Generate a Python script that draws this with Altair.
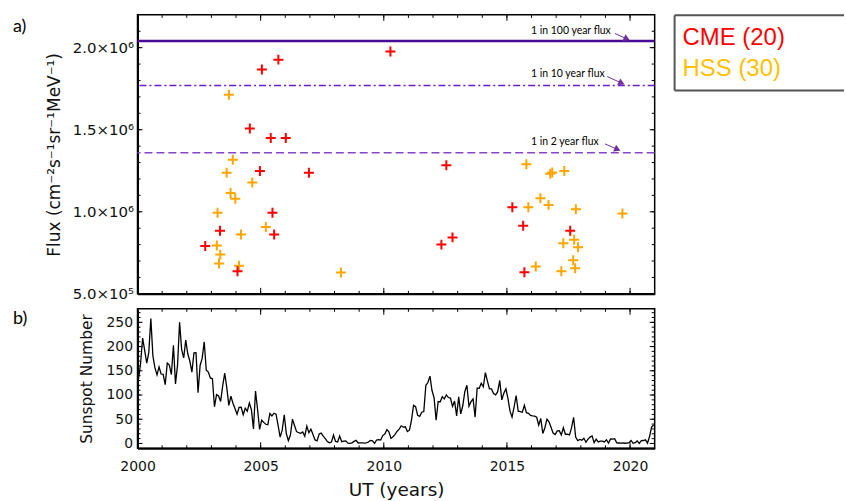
import altair as alt
import pandas as pd

# ---------------------------------------------------------------------------
# Peak >2 MeV electron flux of individual events (decimal year, cm^-2 s^-1 sr^-1 MeV^-1)
# ---------------------------------------------------------------------------
cme_year = [2002.75, 2003.35, 2004.06, 2004.56, 2004.97, 2005.05, 2005.41, 2005.48, 2005.55, 2005.72,
            2006.02, 2006.96, 2010.27, 2012.34, 2012.54, 2012.79, 2015.22, 2015.66, 2015.71, 2017.57]
cme_flux = [0.792e6, 0.885e6, 0.638e6, 1.507e6, 1.248e6, 1.867e6, 1.450e6, 0.994e6, 0.861e6, 1.927e6,
            1.450e6, 1.238e6, 1.976e6, 0.800e6, 1.283e6, 0.844e6, 1.027e6, 0.915e6, 0.632e6, 0.885e6]

hss_year = [2003.22, 2003.25, 2003.31, 2003.36, 2003.62, 2003.71, 2003.78, 2003.87, 2003.97, 2004.12,
            2004.20, 2004.66, 2005.21, 2008.26, 2015.79, 2015.87, 2016.17, 2016.36, 2016.69, 2016.76,
            2016.84, 2017.21, 2017.29, 2017.33, 2017.69, 2017.73, 2017.77, 2017.80, 2017.89, 2019.69]
hss_flux = [0.794e6, 0.994e6, 0.685e6, 0.739e6, 1.238e6, 1.713e6, 1.115e6, 1.317e6, 1.079e6, 0.671e6,
            0.861e6, 1.178e6, 0.907e6, 0.630e6, 1.289e6, 1.027e6, 0.667e6, 1.083e6, 1.042e6, 1.232e6,
            1.240e6, 0.638e6, 0.808e6, 1.248e6, 0.705e6, 0.829e6, 0.656e6, 1.016e6, 0.784e6, 0.990e6]

# Return-level fluxes and their annotations (text anchor, arrow tail, arrow head)
level_name = ["1 in 100 year flux", "1 in 10 year flux", "1 in 2 year flux"]
level_flux = [2.04e6, 1.77e6, 1.36e6]
level_text_year = [2015.98, 2015.98, 2015.98]
level_text_flux = [2.101e6, 1.841e6, 1.428e6]
arrow_tail_year = [2019.38, 2019.07, 2018.98]
arrow_tail_flux = [2.087e6, 1.824e6, 1.414e6]
arrow_head_year = [2019.87, 2019.66, 2019.49]
arrow_head_flux = [2.053e6, 1.784e6, 1.380e6]

# Monthly mean sunspot number, one row of 12 per year from 2000
sunspot_start = 2000
sunspot_monthly = [
    [133.1, 165.7, 217.7, 191.5, 165.9, 188.0, 258.0, 180.5, 156.0, 141.6, 158.1, 143.3],
    [142.6, 121.5, 165.8, 161.7, 142.1, 202.9, 123.0, 161.5, 250.0, 194.1, 176.6, 213.4],
    [184.6, 170.2, 147.1, 186.9, 187.5, 105.0, 161.0, 175.6, 210.0, 151.2, 147.2, 135.3],
    [133.5, 75.7, 100.7, 97.9, 86.8, 118.7, 145.0, 115.4, 78.5, 97.8, 82.9, 72.2],
    [60.6, 74.6, 74.8, 59.2, 72.8, 66.5, 83.8, 69.7, 30.0, 108.0, 70.1, 28.9],
    [48.1, 43.5, 39.6, 38.7, 61.9, 56.8, 62.4, 60.5, 37.2, 13.2, 27.5, 59.3],
    [20.9, 5.7, 17.3, 50.3, 37.2, 24.5, 22.2, 20.8, 23.7, 14.9, 35.7, 22.3],
    [29.3, 18.4, 7.2, 5.4, 19.5, 21.3, 15.1, 9.8, 4.0, 1.5, 2.8, 17.3],
    [4.1, 2.9, 15.5, 3.6, 4.6, 5.2, 0.6, 0.3, 1.2, 4.2, 6.6, 1.0],
    [1.3, 1.2, 0.6, 1.2, 2.9, 6.3, 5.5, 0.0, 7.1, 7.7, 6.9, 16.3],
    [19.5, 28.5, 24.0, 10.4, 13.9, 18.8, 25.2, 29.6, 36.4, 33.6, 34.4, 24.5],
    [27.3, 48.3, 78.6, 76.1, 58.2, 56.1, 64.5, 65.8, 120.1, 125.7, 139.1, 109.3],
    [94.4, 47.8, 86.6, 85.9, 96.5, 92.0, 100.1, 94.8, 93.7, 76.5, 87.6, 56.8],
    [96.1, 60.9, 78.3, 107.3, 120.2, 76.7, 86.2, 91.8, 54.5, 114.4, 113.9, 124.2],
    [117.0, 146.1, 128.7, 112.5, 112.5, 102.9, 100.2, 106.9, 130.0, 90.0, 103.6, 112.9],
    [93.0, 66.7, 54.5, 75.3, 99.0, 66.5, 65.8, 64.4, 78.6, 63.6, 62.2, 58.0],
    [57.0, 56.4, 54.1, 37.9, 51.5, 20.5, 32.4, 50.2, 44.6, 33.4, 21.4, 18.5],
    [26.1, 26.4, 17.7, 32.3, 18.9, 19.2, 17.8, 32.6, 54.0, 13.2, 5.7, 8.2],
    [6.8, 10.7, 2.5, 8.9, 13.1, 15.6, 1.6, 8.7, 3.3, 4.9, 4.9, 3.1],
    [7.7, 0.8, 9.4, 9.1, 9.9, 1.2, 0.9, 0.5, 1.1, 0.4, 0.5, 1.5],
    [6.2, 0.2, 1.5, 5.2, 0.2, 5.8, 6.1, 7.5, 0.6, 14.4, 34.0, 38.0],
]

# ---------------------------------------------------------------------------
# Tables
# ---------------------------------------------------------------------------
cme = pd.DataFrame({"year": cme_year, "flux": cme_flux})
hss = pd.DataFrame({"year": hss_year, "flux": hss_flux})
levels = pd.DataFrame({
    "name": level_name, "flux": level_flux,
    "tx": level_text_year, "ty": level_text_flux,
    "ax": arrow_tail_year, "ay": arrow_tail_flux,
    "hx": arrow_head_year, "hy": arrow_head_flux,
})
sun_rows = []
for i, row in enumerate(sunspot_monthly):
    for m, v in enumerate(row):
        sun_rows.append({"year": sunspot_start + i + (m + 0.5) / 12.0, "ssn": v})
sunspots = pd.DataFrame(sun_rows)

legend_items = [
    (f"CME ({len(cme)})", "#ff0000"),
    (f"HSS ({len(hss)})", "#ffc000"),
]

# ---------------------------------------------------------------------------
# Geometry, scales and axes (one axis object per channel, shared by all layers)
# ---------------------------------------------------------------------------
W = 519
H_TOP = 280
H_BOT = 140

x_scale = alt.Scale(domain=[2000, 2021], nice=False, zero=False)
f_scale = alt.Scale(domain=[5e5, 2.2e6], nice=False, zero=False)
s_scale = alt.Scale(domain=[-10, 278], nice=False, zero=False)

AXIS_FONT = "DejaVu Sans"
LEGEND_FONT = "Liberation Sans"
NOTE_FONT = "Lato"
PLUS = "M-1,0L1,0M0,-1L0,1"
one_row = pd.DataFrame({"k": [0]})

flux_label = ("datum.value >= 1e6 ? format(datum.value / 1e6, '.1f') + '\u00d710\u2076'"
              " : format(datum.value / 1e5, '.1f') + '\u00d710\u2075'")

ax_top_x = alt.Axis(labels=False, ticks=False, grid=False, title=None,
                    domainColor="black", domainWidth=2)
ax_flux = alt.Axis(values=[5e5, 1e6, 1.5e6, 2e6], labelExpr=flux_label,
                   labelFont=AXIS_FONT, labelFontSize=15, labelColor="#111111",
                   labelPadding=4, labelOverlap=False, ticks=False, grid=False,
                   domainColor="black", domainWidth=2,
                   title="Flux (cm\u207b\u00b2s\u207b\u00b9sr\u207b\u00b9MeV\u207b\u00b9)",
                   titleFont=AXIS_FONT, titleFontSize=17, titleFontWeight="normal",
                   titleColor="#111111", titlePadding=9)
ax_bot_x = alt.Axis(values=list(range(2000, 2021, 5)), format="d",
                    labelFont=AXIS_FONT, labelFontSize=14, labelColor="#111111",
                    labelPadding=11, labelFlush=False, labelOverlap=False,
                    ticks=False, grid=False, domainColor="black", domainWidth=2,
                    title="UT (years)", titleFont=AXIS_FONT, titleFontSize=18.5,
                    titleFontWeight="normal", titleColor="#111111", titlePadding=7)
ax_ssn = alt.Axis(values=list(range(0, 251, 50)),
                  labelFont=AXIS_FONT, labelFontSize=14, labelColor="#111111",
                  labelPadding=5, labelOverlap=False, ticks=False, grid=False,
                  domainColor="black", domainWidth=2,
                  title="Sunspot Number", titleFont=AXIS_FONT, titleFontSize=15.5,
                  titleFontWeight="normal", titleColor="#111111", titlePadding=11)


def x_ticks(height, axis, major_len=6, minor_len=3):
    """Inward ticks along top and bottom edges: minor every year, major every 5."""
    minor = pd.DataFrame({"t": list(range(2001, 2021))})
    major = pd.DataFrame({"t": list(range(2000, 2021, 5))})
    layers = []
    for df, ln in ((minor, minor_len), (major, major_len)):
        base = alt.Chart(df).mark_rule(color="black", strokeWidth=1)
        layers.append(base.encode(x=alt.X("t:Q", scale=x_scale, axis=axis),
                                  y=alt.value(0), y2=alt.value(ln)))
        layers.append(base.encode(x=alt.X("t:Q", scale=x_scale, axis=axis),
                                  y=alt.value(height - ln), y2=alt.value(height)))
    return layers


def y_ticks(scale, axis, minor_vals, major_vals, major_len=5, minor_len=3):
    """Inward ticks along left and right edges."""
    layers = []
    for vals, ln in ((minor_vals, minor_len), (major_vals, major_len)):
        base = alt.Chart(pd.DataFrame({"t": vals})).mark_rule(color="black", strokeWidth=1)
        layers.append(base.encode(y=alt.Y("t:Q", scale=scale, axis=axis),
                                  x=alt.value(0), x2=alt.value(ln)))
        layers.append(base.encode(y=alt.Y("t:Q", scale=scale, axis=axis),
                                  x=alt.value(W - ln), x2=alt.value(W)))
    return layers


# ---------------------------------------------------------------------------
# Panel a) event fluxes
# ---------------------------------------------------------------------------
def fx(field):
    return alt.X(field, scale=x_scale, axis=ax_top_x)


def fy(field):
    return alt.Y(field, scale=f_scale, axis=ax_flux)


hss_layer = alt.Chart(hss).mark_point(
    shape=PLUS, size=100, filled=False, strokeWidth=2, color="#ffa500", opacity=1
).encode(x=fx("year:Q"), y=fy("flux:Q"))
cme_layer = alt.Chart(cme).mark_point(
    shape=PLUS, size=100, filled=False, strokeWidth=2, color="#ff0000", opacity=1
).encode(x=fx("year:Q"), y=fy("flux:Q"))

level_styles = [
    ("#4b0a96", 2.5, []),
    ("#6a1ccc", 1.5, [7, 3, 2, 3]),
    ("#8446c8", 1.5, [8, 4]),
]
level_layers = []
for i, (col, sw, dash) in enumerate(level_styles):
    mk = dict(color=col, strokeWidth=sw)
    if dash:
        mk["strokeDash"] = dash
    level_layers.append(
        alt.Chart(levels.iloc[[i]]).mark_rule(**mk).encode(y=fy("flux:Q"))
    )

level_text = alt.Chart(levels).mark_text(
    align="left", baseline="middle", font=NOTE_FONT, fontSize=10.5, color="black"
).encode(x=fx("tx:Q"), y=fy("ty:Q"), text="name:N")
arrow_shaft = alt.Chart(levels).mark_rule(color="#7030a0", strokeWidth=1).encode(
    x=fx("ax:Q"), y=fy("ay:Q"), x2="hx:Q", y2="hy:Q",
)
arrow_head = alt.Chart(levels).mark_point(
    shape="triangle-right", size=55, filled=True, color="#7030a0", angle=25, opacity=1
).encode(x=fx("hx:Q"), y=fy("hy:Q"))

# legend box (open on the right) and coloured entries
box_l, box_r, box_t, box_b = 539, 709, 0.5, 76
legend_layers = [
    alt.Chart(one_row).mark_rule(color="#555555", strokeWidth=2).encode(
        x=alt.value(box_l), x2=alt.value(box_r), y=alt.value(box_t)),
    alt.Chart(one_row).mark_rule(color="#555555", strokeWidth=2).encode(
        x=alt.value(box_l), x2=alt.value(box_r), y=alt.value(box_b)),
    alt.Chart(one_row).mark_rule(color="#555555", strokeWidth=2).encode(
        x=alt.value(box_l), y=alt.value(box_t), y2=alt.value(box_b)),
]
for j, (txt, col) in enumerate(legend_items):
    legend_layers.append(
        alt.Chart(pd.DataFrame({"label": [txt]})).mark_text(
            align="left", baseline="alphabetic", font=LEGEND_FONT, fontSize=24, color=col
        ).encode(text="label:N", x=alt.value(547), y=alt.value(30.5 + 31 * j))
    )

tag_a = alt.Chart(pd.DataFrame({"t": ["a)"]})).mark_text(
    align="left", baseline="alphabetic", font=NOTE_FONT, fontSize=18, color="black"
).encode(text="t:N", x=alt.value(-125), y=alt.value(17))

flux_minor = [v * 1e5 for v in range(6, 22)]
flux_major = [5e5, 1e6, 1.5e6, 2e6]

top = alt.layer(
    hss_layer, *level_layers, cme_layer, level_text, arrow_shaft, arrow_head,
    *x_ticks(H_TOP, ax_top_x),
    *y_ticks(f_scale, ax_flux, flux_minor, flux_major, major_len=5, minor_len=3),
    *legend_layers, tag_a,
).properties(width=W, height=H_TOP)

# ---------------------------------------------------------------------------
# Panel b) sunspot number
# ---------------------------------------------------------------------------
sun_line = alt.Chart(sunspots).mark_line(color="black", strokeWidth=1.3).encode(
    x=alt.X("year:Q", scale=x_scale, axis=ax_bot_x),
    y=alt.Y("ssn:Q", scale=s_scale, axis=ax_ssn),
)

tag_b = alt.Chart(pd.DataFrame({"t": ["b)"]})).mark_text(
    align="left", baseline="alphabetic", font=NOTE_FONT, fontSize=18, color="black"
).encode(text="t:N", x=alt.value(-125), y=alt.value(15))

ssn_minor = list(range(10, 271, 10))
ssn_major = list(range(0, 251, 50))

bottom = alt.layer(
    sun_line, *x_ticks(H_BOT, ax_bot_x),
    *y_ticks(s_scale, ax_ssn, ssn_minor, ssn_major, major_len=5, minor_len=3),
    tag_b,
).properties(width=W, height=H_BOT)

chart = alt.vconcat(top, bottom, spacing=15, bounds="flush").properties(
    padding={"left": 12, "top": 12, "right": 0, "bottom": 0}
).configure_view(stroke="black", strokeWidth=1.5)

chart.save("out.html", embed_options={"renderer": "svg", "actions": False})
